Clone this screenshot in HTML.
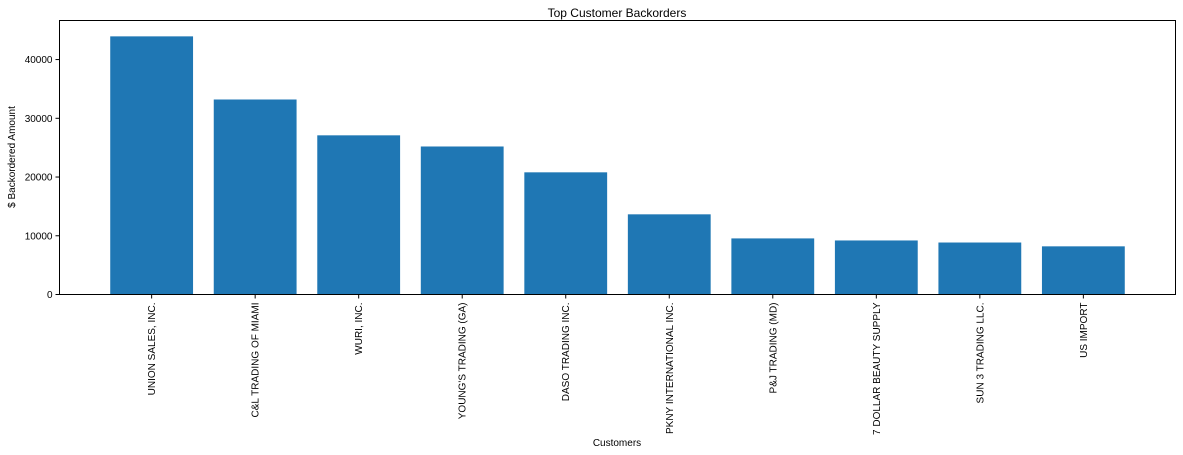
<!DOCTYPE html>
<html><head><meta charset="utf-8"><style>
html,body{margin:0;padding:0;background:#fff;}
svg{display:block;font-family:"Liberation Sans","DejaVu Sans",sans-serif;}
</style></head><body>
<svg id="chart" width="1183" height="455" viewBox="0 0 1183 455" xmlns="http://www.w3.org/2000/svg">
<text x="617" y="17" text-anchor="middle" font-size="12" fill="#000">Top Customer Backorders</text>
<text x="617" y="446" text-anchor="middle" font-size="10" fill="#000">Customers</text>
<text transform="translate(15,157) rotate(-90)" text-anchor="middle" font-size="10" fill="#000">$ Backordered Amount</text>
<g id="bars"></g>
<g id="xticks"></g>
<g id="yticks"></g>
<rect x="59.5" y="20.5" width="1116" height="274" fill="none" stroke="#000" stroke-width="1"/>
</svg>
<script>
const categories = ["UNION SALES, INC.","C&L TRADING OF MIAMI","WURI, INC.","YOUNG'S TRADING (GA)","DASO TRADING INC.","PKNY INTERNATIONAL INC.","P&J TRADING (MD)","7 DOLLAR BEAUTY SUPPLY","SUN 3 TRADING LLC.","US IMPORT"];
const values = [43950, 33200, 27100, 25200, 20800, 13650, 9550, 9200, 8850, 8200];
const yTicks = [0, 10000, 20000, 30000, 40000];
const yTickLabels = ["0","10000","20000","30000","40000"];

const NS = "http://www.w3.org/2000/svg";
const plotLeft = 59.5, plotRight = 1175.5, plotTop = 20.5, plotBottom = 294.5;
const xMin = -0.89, xMax = categories.length - 1 + 0.89;
const yMax = 46650;
function xs(i){ return plotLeft + (i - xMin) / (xMax - xMin) * (plotRight - plotLeft); }
function ys(v){ return plotBottom - v / yMax * (plotBottom - plotTop); }
const unit = (plotRight - plotLeft) / (xMax - xMin);

const gb = document.getElementById('bars');
const gx = document.getElementById('xticks');
const gy = document.getElementById('yticks');
values.forEach((v, i) => {
  const r = document.createElementNS(NS, 'rect');
  r.setAttribute('x', xs(i - 0.4));
  r.setAttribute('y', ys(v));
  r.setAttribute('width', unit * 0.8);
  r.setAttribute('height', ys(0) - ys(v));
  r.setAttribute('fill', '#1f77b4');
  
  
  gb.appendChild(r);
  const cx = xs(i);
  const t = document.createElementNS(NS, 'line');
  t.setAttribute('x1', cx); t.setAttribute('x2', cx);
  t.setAttribute('y1', plotBottom); t.setAttribute('y2', plotBottom + 4);
  t.setAttribute('stroke', '#000');
  
  
  gx.appendChild(t);
  const tx = document.createElementNS(NS, 'text');
  tx.setAttribute('transform', `translate(${cx + 3.5},${plotBottom + 8}) rotate(-90)`);
  tx.setAttribute('text-anchor', 'end');
  tx.setAttribute('font-size', '10');
  tx.textContent = categories[i];
  
  
  gx.appendChild(tx);
});
yTicks.forEach((v, i) => {
  const y = ys(v);
  const t = document.createElementNS(NS, 'line');
  t.setAttribute('x1', plotLeft - 4); t.setAttribute('x2', plotLeft);
  t.setAttribute('y1', y); t.setAttribute('y2', y);
  t.setAttribute('stroke', '#000');
  
  
  gy.appendChild(t);
  const tx = document.createElementNS(NS, 'text');
  tx.setAttribute('x', plotLeft - 7);
  tx.setAttribute('y', y + 3.5);
  tx.setAttribute('text-anchor', 'end');
  tx.setAttribute('font-size', '10');
  tx.textContent = yTickLabels[i];
  
  
  gy.appendChild(tx);
});
</script>
</body></html>
